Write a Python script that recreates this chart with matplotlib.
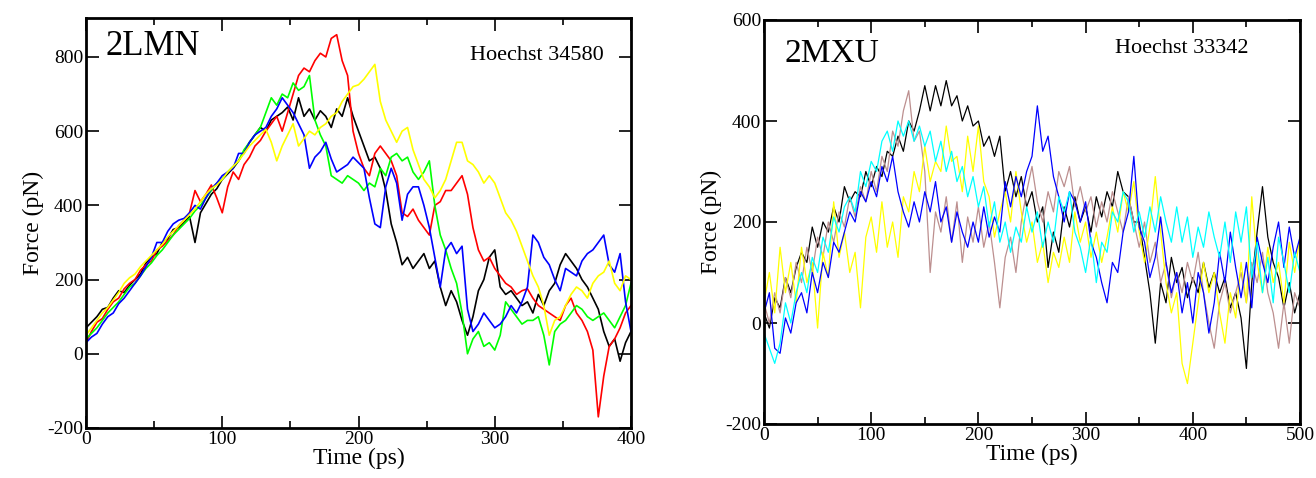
import numpy as np
import matplotlib
matplotlib.use("Agg")
import matplotlib.pyplot as plt
from matplotlib.ticker import MultipleLocator

plt.rcParams['font.family'] = ['Liberation Serif', 'DejaVu Serif']
plt.rcParams['axes.unicode_minus'] = False

# left panel: 2LMN / Hoechst 34580, one value every 4 ps
time_lmn = np.arange(0, 401, 4)
lmn_black = [70, 85, 100, 120, 125, 150, 170, 165, 185, 200,
             215, 245, 260, 270, 300, 310, 335, 340, 355, 370,
             300, 380, 405, 430, 445, 470, 485, 500, 520, 545,
             570, 590, 610, 600, 630, 640, 650, 665, 630, 690,
             640, 660, 630, 655, 640, 610, 660, 640, 690, 640,
             600, 560, 520, 530, 500, 440, 350, 300, 240, 260,
             230, 250, 270, 230, 250, 180, 130, 170, 140, 90,
             50, 100, 170, 200, 260, 280, 180, 160, 170, 150,
             130, 140, 110, 160, 130, 170, 190, 240, 270, 250,
             230, 200, 180, 150, 120, 60, 20, 40, -20, 30,
             60]
lmn_red = [30, 60, 85, 95, 120, 140, 150, 175, 190, 200,
           225, 240, 250, 280, 290, 305, 320, 345, 360, 380,
           440, 410, 430, 455, 420, 380, 450, 490, 470, 510,
           530, 560, 575, 600, 620, 640, 600, 650, 700, 750,
           770, 760, 790, 810, 800, 850, 860, 790, 750, 600,
           540, 500, 480, 540, 560, 540, 520, 480, 380, 370,
           390, 360, 340, 320, 400, 410, 440, 440, 460, 480,
           430, 340, 280, 250, 260, 230, 210, 190, 180, 160,
           170, 175, 150, 130, 120, 110, 100, 90, 130, 150,
           110, 90, 60, 10, -170, -60, 20, 40, 70, 110,
           130]
lmn_green = [40, 55, 70, 90, 110, 125, 140, 160, 180, 190,
             210, 230, 245, 265, 280, 300, 320, 335, 350, 365,
             385, 400, 420, 440, 460, 470, 490, 505, 520, 550,
             570, 590, 610, 650, 690, 670, 700, 690, 730, 710,
             720, 750, 630, 590, 560, 480, 470, 460, 480, 470,
             460, 440, 460, 450, 500, 480, 530, 540, 520, 530,
             490, 470, 490, 520, 400, 320, 280, 230, 190, 110,
             0, 40, 60, 20, 30, 10, 50, 140, 120, 100,
             80, 90, 90, 100, 50, -30, 60, 80, 90, 110,
             130, 120, 100, 90, 100, 110, 90, 70, 100, 130,
             190]
lmn_blue = [30, 45, 55, 80, 100, 110, 135, 150, 170, 190,
            210, 235, 260, 300, 300, 330, 350, 360, 365, 380,
            400, 390, 420, 445, 460, 480, 490, 500, 540, 540,
            570, 590, 600, 610, 640, 660, 690, 670, 650, 620,
            590, 500, 530, 545, 570, 525, 490, 500, 510, 530,
            515, 500, 420, 350, 340, 450, 500, 460, 360, 430,
            450, 450, 400, 340, 260, 180, 280, 300, 270, 290,
            120, 60, 80, 110, 90, 70, 80, 100, 130, 110,
            140, 180, 320, 300, 260, 240, 200, 170, 230, 220,
            210, 250, 270, 280, 300, 320, 240, 220, 270, 140,
            60]
lmn_yellow = [50, 70, 90, 110, 125, 145, 165, 190, 205, 215,
              235, 250, 265, 280, 295, 315, 330, 345, 360, 375,
              390, 410, 430, 445, 455, 470, 490, 505, 520, 540,
              560, 575, 590, 605, 570, 520, 560, 590, 620, 560,
              580, 600, 590, 610, 620, 640, 650, 680, 700, 720,
              725, 740, 760, 780, 680, 630, 600, 570, 600, 610,
              550, 510, 470, 450, 420, 440, 470, 520, 570, 570,
              520, 510, 490, 460, 480, 460, 420, 380, 360, 330,
              290, 250, 210, 180, 130, 50, 90, 100, 130, 160,
              180, 170, 150, 190, 210, 220, 250, 190, 170, 210,
              200]

# right panel: 2MXU / Hoechst 33342, one value every 5 ps
time_mxu = np.arange(0, 501, 5)
mxu_black = [20, -10, 50, 30, 90, 60, 110, 140, 120, 190,
             150, 200, 180, 230, 200, 270, 240, 260, 250, 300,
             270, 310, 290, 340, 330, 370, 340, 400, 380, 420,
             470, 420, 470, 430, 480, 430, 450, 400, 430, 390,
             400, 350, 370, 330, 370, 260, 300, 250, 290, 230,
             260, 200, 230, 110, 180, 140, 230, 190, 250, 200,
             230, 180, 250, 210, 260, 230, 300, 260, 250, 200,
             200, 130, 60, -40, 80, 40, 130, 80, 110, 50,
             90, 60, 120, 70, 100, 60, 90, 30, 60, 10,
             -90, 80, 180, 270, 170, 120, 90, 30, 80, 20,
             60]
mxu_brown = [40, 0, 60, 20, 90, 50, 120, 80, 150, 100,
             170, 130, 200, 160, 220, 190, 250, 210, 270, 240,
             300, 260, 330, 300, 380, 350, 420, 460, 360, 380,
             300, 100, 220, 180, 250, 160, 240, 120, 210, 160,
             230, 150, 200, 120, 30, 130, 170, 100, 200, 260,
             310, 240, 200, 260, 220, 300, 270, 310, 230, 270,
             220, 250, 190, 240, 200, 260, 220, 180, 250, 200,
             150, 200, 120, 160, 80, 120, 50, 100, 60, 120,
             80, 140, 60, 0, -50, 40, 80, 20, 60, 100,
             40, 120, 80, 140, 60, 20, -50, 40, -40, 60,
             30]
mxu_yellow = [40, 100, 20, 150, 60, 120, 40, 150, 80, 120,
              -10, 140, 90, 240, 130, 180, 100, 140, 30, 170,
              210, 140, 240, 150, 200, 130, 250, 220, 300, 260,
              350, 280, 320, 300, 390, 320, 330, 260, 370, 300,
              390, 280, 250, 170, 220, 260, 200, 300, 220, 160,
              200, 120, 160, 80, 140, 110, 170, 120, 220, 160,
              200, 130, 180, 120, 170, 230, 180, 260, 220, 280,
              180, 120, 190, 290, 180, 80, 20, 60, -80, -120,
              -40, 40, 120, 60, 100, 20, -40, 60, 10, 120,
              40, 250, 120, 60, 150, 80, 120, 40, 160, 100,
              170]
mxu_blue = [20, 60, -50, -60, 10, -20, 40, 60, 20, 100,
            60, 120, 90, 160, 140, 180, 220, 200, 260, 240,
            280, 250, 310, 280, 330, 260, 220, 190, 240, 200,
            260, 220, 280, 200, 230, 160, 220, 180, 150, 200,
            160, 230, 170, 210, 180, 280, 230, 290, 250, 300,
            330, 430, 340, 370, 290, 250, 200, 260, 240, 200,
            240, 160, 130, 80, 40, 120, 100, 180, 220, 330,
            190, 160, 90, 130, 210, 120, 60, 100, 20, 80,
            0, 100, 60, -20, 40, 140, 80, 180, 110, 50,
            120, 30, 170, 120, 80, 150, 200, 110, 190, 130,
            170]
mxu_cyan = [-20, -50, -80, -40, 40, 0, 60, 100, 60, 130,
            100, 170, 140, 210, 180, 230, 250, 220, 300, 270,
            320, 300, 360, 380, 340, 400, 370, 400, 360, 390,
            350, 380, 320, 360, 300, 340, 280, 310, 250, 290,
            230, 270, 190, 240, 160, 200, 140, 190, 160, 230,
            180, 220, 150, 200, 160, 250, 220, 260, 180, 150,
            100, 170, 80, 160, 140, 220, 200, 260, 240, 180,
            220, 170, 230, 180, 250, 200, 160, 230, 160, 210,
            130, 190, 150, 220, 170, 130, 200, 120, 220, 160,
            230, 90, 160, 60, 130, 40, 170, 120, 60, 140,
            100]

fig = plt.figure(figsize=(13.16, 4.78), dpi=100)
ax1 = fig.add_axes([86/1316, 50/478, 545/1316, 410/478])
ax2 = fig.add_axes([764/1316, 54/478, 536/1316, 404/478])

lmn = [(lmn_black, 'black'), (lmn_red, 'red'), (lmn_green, '#00ff00'),
       (lmn_blue, 'blue'), (lmn_yellow, '#ffff00')]
for vals, c in lmn:
    ax1.plot(time_lmn, vals, color=c, lw=1.2)

mxu = [(mxu_black, 'black'), (mxu_brown, '#bc8f8f'), (mxu_yellow, '#ffff00'),
       (mxu_blue, 'blue'), (mxu_cyan, '#00ffff')]
for vals, c in mxu:
    ax2.plot(time_mxu, vals, color=c, lw=0.9)

ax1.set_xlim(0, 400)
ax1.set_ylim(-200, 905)
ax1.xaxis.set_major_locator(MultipleLocator(100))
ax1.xaxis.set_minor_locator(MultipleLocator(50))
ax1.yaxis.set_major_locator(MultipleLocator(200))
ax1.text(14, 805, '2LMN', fontsize=25)
ax1.text(282, 792, 'Hoechst 34580', fontsize=16)

ax2.set_xlim(0, 500)
ax2.set_ylim(-200, 600)
ax2.xaxis.set_major_locator(MultipleLocator(100))
ax2.xaxis.set_minor_locator(MultipleLocator(50))
ax2.yaxis.set_major_locator(MultipleLocator(200))
ax2.text(19, 517, '2MXU', fontsize=24)
ax2.text(327, 535, 'Hoechst 33342', fontsize=16)

for ax in (ax1, ax2):
    for s in ax.spines.values():
        s.set_linewidth(2)
    ax.tick_params(which='both', direction='in', top=True, right=True, width=1.2)
    ax.tick_params(which='major', length=9, labelsize=14, pad=2)
    ax.tick_params(which='minor', length=5)
    ax.set_xlabel('Time (ps)', fontsize=17, labelpad=0)
    ax.set_ylabel('Force (pN)', fontsize=17, labelpad=2)

plt.savefig('out.png', dpi=100)
